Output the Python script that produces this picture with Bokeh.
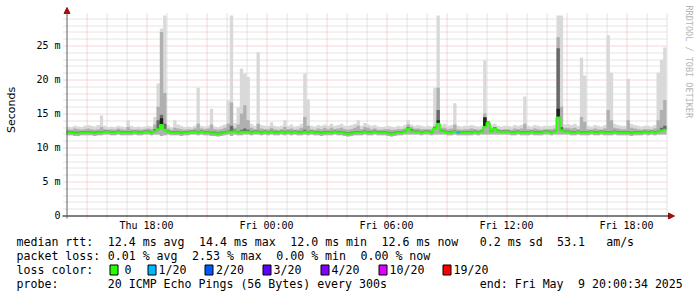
import math
from bokeh.plotting import figure
from bokeh.models import Range1d, FixedTicker, Arrow, NormalHead
from bokeh.layouts import column
from bokeh.embed import file_html
from bokeh.resources import INLINE
from bokeh.core.properties import value

# ---------------- data (10-minute consolidated steps, Thu 14:00 .. Fri 20:00) ----------------
start_hour = 14.0          # Thu 14:00, hours counted from Thu 00:00
step_hours = 1.0 / 6.0     # 10 minutes
end_hour = 44.0            # Fri 20:00

# median round-trip time (ms)
median_ms = [
    12.2, 12.2, 12.1, 12.1, 12.2, 12.2,   # Thu 14
    12.2, 12.2, 12.1, 12.2, 12.2, 12.3,   # 15
    12.3, 12.2, 12.2, 12.3, 12.2, 12.2,   # 16
    12.2, 12.2, 12.3, 12.2, 12.2, 12.3,   # 17
    12.3, 12.2, 12.4, 12.7, 13.3, 12.6,   # 18
    12.3, 12.2, 12.2, 12.2, 12.1, 12.2,   # 19
    12.2, 12.3, 12.3, 12.2, 12.3, 12.2,   # 20
    12.2, 12.1, 12.1, 12.0, 12.1, 12.2,   # 21
    12.3, 12.3, 12.4, 12.2, 12.3, 12.3,   # 22
    12.3, 12.2, 12.3, 12.3, 12.2, 12.3,   # 23
    12.2, 12.3, 12.2, 12.2, 12.3, 12.2,   # Fri 00
    12.3, 12.2, 12.3, 12.2, 12.2, 12.3,   # 01
    12.2, 12.3, 12.2, 12.2, 12.1, 12.2,   # 02
    12.2, 12.2, 12.3, 12.2, 12.2, 12.1,   # 03
    12.0, 12.1, 12.2, 12.2, 12.2, 12.3,   # 04
    12.2, 12.2, 12.3, 12.2, 12.2, 12.2,   # 05
    12.1, 12.0, 12.1, 12.2, 12.2, 12.3,   # 06
    12.8, 12.4, 12.3, 12.3, 12.2, 12.3,   # 07
    12.3, 12.2, 12.8, 13.5, 12.4, 12.3,   # 08
    12.2, 12.2, 12.3, 12.2, 12.2, 12.2,   # 09
    12.2, 12.2, 12.3, 12.2, 12.3, 13.0,   # 10
    13.6, 12.3, 12.8, 12.4, 12.3, 12.3,   # 11
    12.3, 12.2, 12.2, 12.3, 12.2, 12.2,   # 12
    12.2, 12.3, 12.2, 12.2, 12.2, 12.3,   # 13
    12.3, 12.2, 12.3, 14.4, 12.5, 12.3,   # 14
    12.3, 12.2, 12.2, 12.3, 12.2, 12.2,   # 15
    12.2, 12.3, 12.2, 12.2, 12.3, 12.2,   # 16
    12.2, 12.2, 12.3, 12.2, 12.2, 12.2,   # 17
    12.2, 12.1, 12.2, 12.2, 12.2, 12.3,   # 18
    12.2, 12.3, 12.2, 12.3, 12.5, 12.6,   # 19
]

# fastest ping of each step (ms) - lower edge of the smoke
smoke_lo_ms = [
    11.8, 11.8, 11.7, 11.7, 11.8, 11.8,
    11.8, 11.8, 11.7, 11.8, 11.8, 11.9,
    11.9, 11.8, 11.8, 11.9, 11.8, 11.8,
    11.8, 11.8, 11.9, 11.8, 11.8, 11.9,
    11.9, 11.8, 11.9, 11.9, 11.7, 11.8,
    11.9, 11.8, 11.8, 11.8, 11.7, 11.8,
    11.8, 11.9, 11.9, 11.8, 11.9, 11.8,
    11.8, 11.7, 11.7, 11.6, 11.7, 11.8,
    11.9, 11.7, 11.9, 11.8, 11.8, 11.9,
    11.9, 11.8, 11.9, 11.9, 11.8, 11.9,
    11.8, 11.9, 11.8, 11.8, 11.9, 11.8,
    11.9, 11.8, 11.9, 11.8, 11.8, 11.9,
    11.8, 11.9, 11.8, 11.8, 11.7, 11.8,
    11.8, 11.8, 11.9, 11.8, 11.8, 11.7,
    11.6, 11.7, 11.8, 11.8, 11.8, 11.9,
    11.8, 11.8, 11.9, 11.8, 11.8, 11.8,
    11.7, 11.6, 11.7, 11.8, 11.8, 11.9,
    11.9, 11.9, 11.9, 11.9, 11.8, 11.9,
    11.9, 11.8, 11.9, 11.9, 11.9, 11.9,
    11.8, 11.8, 11.9, 11.8, 11.8, 11.8,
    11.8, 11.8, 11.9, 11.8, 11.9, 11.9,
    11.9, 11.9, 11.9, 11.9, 11.9, 11.9,
    11.9, 11.8, 11.8, 11.9, 11.8, 11.8,
    11.8, 11.9, 11.8, 11.8, 11.8, 11.9,
    11.9, 11.8, 11.9, 11.9, 11.9, 11.9,
    11.9, 11.8, 11.8, 11.9, 11.8, 11.8,
    11.8, 11.9, 11.8, 11.8, 11.9, 11.8,
    11.8, 11.8, 11.9, 11.8, 11.8, 11.8,
    11.8, 11.7, 11.8, 11.8, 11.8, 11.9,
    11.8, 11.9, 11.8, 11.9, 11.9, 11.9,
]

# slowest ping of each step (ms) - upper edge of the light smoke (clipped at the top)
smoke_hi_ms = [
    13.1, 13.0, 13.2, 13.1, 13.0, 13.2,
    13.3, 13.2, 13.1, 13.3, 14.7, 13.2,
    13.0, 13.1, 13.0, 13.2, 13.1, 13.0,
    14.0, 13.2, 13.0, 13.1, 13.0, 13.1,
    13.2, 13.1, 14.5, 19.4, 27.5, 29.4,
    13.3, 13.0, 14.0, 13.4, 13.2, 13.0,
    13.1, 13.0, 13.2, 18.8, 13.2, 13.1,
    13.2, 15.7, 13.1, 13.0, 13.2, 13.4,
    16.9, 29.4, 13.6, 15.9, 21.6, 20.9,
    20.4, 13.5, 13.2, 24.0, 13.3, 13.2,
    13.2, 13.7, 13.2, 13.1, 13.2, 14.0,
    13.2, 13.4, 13.1, 13.2, 13.5, 20.9,
    17.1, 13.2, 13.1, 13.3, 13.2, 13.4,
    13.2, 13.5, 13.2, 13.3, 13.5, 13.2,
    13.2, 13.3, 13.5, 14.0, 13.2, 13.6,
    13.4, 13.2, 13.3, 13.1, 13.0, 13.1,
    13.2, 13.1, 13.0, 13.2, 13.1, 13.3,
    14.0, 13.4, 13.2, 13.3, 13.2, 13.1,
    13.2, 13.1, 18.8, 29.4, 13.4, 13.5,
    13.2, 13.3, 16.5, 13.2, 13.1, 13.2,
    13.2, 13.3, 13.2, 13.1, 13.2, 22.8,
    13.6, 13.4, 13.5, 13.2, 13.1, 13.2,
    13.2, 13.1, 13.3, 13.2, 13.3, 17.5,
    13.2, 13.1, 13.3, 13.2, 13.1, 13.2,
    13.2, 13.2, 13.3, 29.4, 29.4, 13.4,
    13.5, 13.3, 13.5, 13.2, 23.2, 20.6,
    13.2, 13.1, 13.3, 13.2, 13.1, 13.3,
    26.5, 21.0, 13.5, 13.3, 13.2, 13.2,
    20.1, 13.5, 13.3, 13.2, 13.1, 13.2,
    13.2, 13.1, 13.3, 21.0, 22.9, 24.7,
]

# upper edge of the denser (mid grey) smoke (ms)
smoke_mid_ms = [
    12.7, 12.6, 12.8, 12.7, 12.6, 12.7,
    12.8, 12.7, 12.6, 12.7, 13.0, 12.7,
    12.6, 12.7, 12.6, 12.8, 12.7, 12.6,
    13.0, 12.7, 12.6, 12.7, 12.6, 12.7,
    12.8, 12.7, 13.4, 16.0, 27.0, 18.0,
    12.8, 12.6, 12.9, 12.8, 12.7, 12.6,
    12.7, 12.6, 12.8, 13.5, 12.8, 12.7,
    12.8, 13.4, 12.7, 12.6, 12.7, 12.9,
    13.5, 16.6, 12.9, 13.4, 15.0, 16.2,
    14.0, 12.9, 12.7, 13.5, 12.8, 12.7,
    12.7, 12.9, 12.7, 12.6, 12.7, 13.0,
    12.7, 12.8, 12.6, 12.7, 12.9, 14.5,
    13.2, 12.7, 12.6, 12.8, 12.7, 12.9,
    12.7, 12.9, 12.7, 12.8, 12.9, 12.7,
    12.6, 12.7, 12.9, 13.2, 12.7, 13.0,
    12.9, 12.7, 12.8, 12.6, 12.6, 12.7,
    12.7, 12.6, 12.6, 12.7, 12.7, 12.8,
    13.4, 13.0, 12.8, 12.8, 12.7, 12.7,
    12.7, 12.7, 13.2, 18.8, 12.9, 12.9,
    12.7, 12.8, 13.4, 12.7, 12.6, 12.7,
    12.7, 12.8, 12.7, 12.6, 12.7, 15.0,
    13.9, 12.9, 13.0, 12.7, 12.6, 12.7,
    12.7, 12.6, 12.8, 12.7, 12.8, 13.5,
    12.7, 12.6, 12.8, 12.7, 12.6, 12.7,
    12.7, 12.7, 12.8, 26.2, 16.0, 12.9,
    12.9, 12.8, 12.9, 12.7, 14.5, 13.8,
    12.7, 12.6, 12.8, 12.7, 12.6, 12.8,
    15.5, 14.0, 12.9, 12.8, 12.7, 12.7,
    14.0, 12.9, 12.8, 12.7, 12.6, 12.7,
    12.7, 12.6, 12.8, 14.0, 15.5, 17.0,
]

# upper edge of the dark smoke next to the median (ms)
smoke_dark_ms = [
    12.4, 12.4, 12.3, 12.3, 12.4, 12.4,
    12.4, 12.4, 12.3, 12.4, 12.4, 12.5,
    12.5, 12.4, 12.4, 12.5, 12.4, 12.4,
    12.4, 12.4, 12.5, 12.4, 12.4, 12.5,
    12.5, 12.4, 12.7, 14.0, 14.8, 13.5,
    12.5, 12.4, 12.4, 12.4, 12.3, 12.4,
    12.4, 12.5, 12.5, 12.4, 12.5, 12.4,
    12.4, 12.3, 12.3, 12.2, 12.3, 12.4,
    12.5, 13.2, 12.6, 12.4, 12.6, 12.8,
    12.6, 12.4, 12.5, 12.5, 12.4, 12.5,
    12.4, 12.5, 12.4, 12.4, 12.5, 12.4,
    12.5, 12.4, 12.5, 12.4, 12.4, 12.6,
    12.4, 12.5, 12.4, 12.4, 12.3, 12.4,
    12.4, 12.4, 12.5, 12.4, 12.4, 12.3,
    12.2, 12.3, 12.4, 12.4, 12.4, 12.5,
    12.4, 12.4, 12.5, 12.4, 12.4, 12.4,
    12.3, 12.2, 12.3, 12.4, 12.4, 12.5,
    13.0, 12.7, 12.5, 12.5, 12.4, 12.5,
    12.5, 12.4, 13.0, 15.5, 12.6, 12.5,
    12.4, 12.4, 12.5, 12.4, 12.4, 12.4,
    12.4, 12.4, 12.5, 12.4, 12.5, 14.5,
    13.8, 12.5, 13.0, 12.6, 12.5, 12.5,
    12.5, 12.4, 12.4, 12.5, 12.4, 12.4,
    12.4, 12.5, 12.4, 12.4, 12.4, 12.5,
    12.5, 12.4, 12.5, 24.6, 13.0, 12.5,
    12.5, 12.4, 12.4, 12.5, 12.4, 12.4,
    12.4, 12.5, 12.4, 12.4, 12.5, 12.4,
    12.4, 12.4, 12.5, 12.4, 12.4, 12.4,
    12.4, 12.3, 12.4, 12.4, 12.4, 12.5,
    12.4, 12.5, 12.4, 12.5, 12.9, 13.2,
]

# darkest core of a few bursts (ms)
core_hour = [18.6667, 32.5, 34.8333, 38.5]
core_ms = [14.3, 14.0, 14.4, 15.7]

# steps with packet loss
loss_hour = [33.5]
loss_of_20 = [1]

# axis ticks / labels
x_label_hours = [18, 24, 30, 36, 42]
x_labels = ["Thu 18:00", "Fri 00:00", "Fri 06:00", "Fri 12:00", "Fri 18:00"]
x_major_grid = [15, 18, 21, 24, 27, 30, 33, 36, 39, 42]
x_minor_grid = [16, 17, 19, 20, 22, 23, 25, 26, 28, 29, 31, 32, 34, 35, 37, 38, 40, 41, 43, 44]
y_label_ms = [0, 5, 10, 15, 20, 25]
y_labels = ["0", "5 m", "10 m", "15 m", "20 m", "25 m"]
y_major_grid = [5, 10, 15, 20, 25]
y_minor_grid = [1, 2, 3, 4, 6, 7, 8, 9, 11, 12, 13, 14, 16, 17, 18, 19, 21, 22, 23, 24, 26, 27, 28, 29]

# legend
rtt_title = "median rtt:"
rtt_stats = ["12.4 ms avg", "14.4 ms max", "12.0 ms min", "12.6 ms now", "0.2 ms sd", "53.1", "am/s"]
loss_title = "packet loss:"
loss_stats = ["0.01 % avg", "2.53 % max", "0.00 % min", "0.00 % now"]
color_title = "loss color:"
loss_labels = ["0", "1/20", "2/20", "3/20", "4/20", "10/20", "19/20"]
loss_colors = ["#26ff00", "#00b8ff", "#0059ff", "#5e00ff", "#7e00ff", "#dd00ff", "#ff0000"]
probe_title = "probe:"
probe_text = "20 ICMP Echo Pings (56 Bytes) every 300s"
end_text_a = "end: Fri May"
end_text_b = "9 20:00:34 2025"
credit = "RRDTOOL / TOBI OETIKER"

# ---------------- layout constants (pixels) ----------------
MONO = "DejaVu Sans Mono"
W = 697
H_PLOT = 235
H_LEG = 297 - H_PLOT
FRAME_LEFT = 60          # frame spans x 60..697, y 0..219
FRAME_BOTTOM = 219
AXIS_X_PX = 66           # pixel of start_hour
AXIS_Y_PX = 215          # pixel of 0 ms
PX_PER_H = 20.0
PX_PER_MS = 6.8

x_lo = start_hour - (AXIS_X_PX - FRAME_LEFT) / PX_PER_H
x_hi = start_hour + (W - AXIS_X_PX) / PX_PER_H
y_lo = -(FRAME_BOTTOM - AXIS_Y_PX) / PX_PER_MS
y_hi = AXIS_Y_PX / PX_PER_MS


def hx(px):
    return start_hour + (px - AXIS_X_PX) / PX_PER_H


def vy(py):
    return (AXIS_Y_PX - py) / PX_PER_MS


def crisp_x(h):
    # snap a vertical line to the centre of its pixel column
    return hx(round(AXIS_X_PX + (h - start_hour) * PX_PER_H) + 0.5)


def crisp_y(v):
    return vy(round(AXIS_Y_PX - v * PX_PER_MS) + 0.5)


n = len(median_ms)
t_edge = [start_hour + i * step_hours for i in range(n)] + [end_hour]


def ext(a):
    return list(a) + [a[-1]]


p = figure(width=W, height=H_PLOT, x_range=Range1d(x_lo, x_hi), y_range=Range1d(y_lo, y_hi),
           output_backend="svg", toolbar_location=None,
           min_border_left=FRAME_LEFT, min_border_right=0, min_border_top=0,
           min_border_bottom=H_PLOT - FRAME_BOTTOM,
           background_fill_color="white", border_fill_color="white")
p.frame_align = False
p.outline_line_color = None
p.xgrid.visible = False
p.ygrid.visible = False

# grid (dotted, extends a few pixels past the axes like rrdtool)
gx_lo, gx_hi, gy_lo, gy_hi = hx(63), hx(667), vy(218), vy(13)
xmn = [crisp_x(h) for h in x_minor_grid]
xmj = [crisp_x(h) for h in x_major_grid]
ymn = [crisp_y(v) for v in y_minor_grid]
ymj = [crisp_y(v) for v in y_major_grid]
p.segment(x0=xmn, x1=xmn, y0=[gy_lo] * len(xmn), y1=[gy_hi] * len(xmn),
          line_color="#c8c8c8", line_dash="1 1", line_width=1)
p.segment(x0=[gx_lo] * len(ymn), x1=[gx_hi] * len(ymn), y0=ymn, y1=ymn,
          line_color="#c8c8c8", line_dash="1 1", line_width=1)
p.segment(x0=xmj, x1=xmj, y0=[gy_lo] * len(xmj), y1=[gy_hi] * len(xmj),
          line_color="#ebb0b0", line_dash="1 1", line_width=1)
p.segment(x0=[gx_lo] * len(ymj), x1=[gx_hi] * len(ymj), y0=ymj, y1=ymj,
          line_color="#ebb0b0", line_dash="1 1", line_width=1)

# smoke
p.varea_step(x=t_edge, y1=ext(smoke_lo_ms), y2=ext(smoke_hi_ms), step_mode="after", fill_color="#d9d9d9")
p.varea_step(x=t_edge, y1=ext(smoke_lo_ms), y2=ext(smoke_mid_ms), step_mode="after", fill_color="#b0b0b0")
p.varea_step(x=t_edge, y1=ext(median_ms), y2=ext(smoke_dark_ms), step_mode="after", fill_color="#686868")
core_idx = [int(round((h - start_hour) / step_hours)) for h in core_hour]
p.quad(left=core_hour, right=[h + step_hours for h in core_hour],
       bottom=[median_ms[i] for i in core_idx], top=core_ms, fill_color="#1e1e1e", line_color=None)

# median line coloured by loss
p.step(x=t_edge, y=ext(median_ms), mode="after", line_color=loss_colors[0], line_width=2)
loss_idx = [int(round((h - start_hour) / step_hours)) for h in loss_hour]
loss_map = {0: 0, 1: 1, 2: 2, 3: 3, 4: 4, 10: 5, 19: 6}
p.segment(x0=loss_hour, x1=[h + step_hours for h in loss_hour], y0=[median_ms[i] for i in loss_idx],
          y1=[median_ms[i] for i in loss_idx], line_color=[loss_colors[loss_map[k]] for k in loss_of_20],
          line_width=2)

# axes (labels only; lines drawn below)
p.xaxis.ticker = FixedTicker(ticks=x_label_hours)
p.xaxis.major_label_overrides = {h: s for h, s in zip(x_label_hours, x_labels)}
p.yaxis.ticker = FixedTicker(ticks=y_label_ms)
p.yaxis.major_label_overrides = {v: s for v, s in zip(y_label_ms, y_labels)}
for ax in (p.xaxis[0], p.yaxis[0]):
    ax.major_label_text_font = MONO
    ax.major_label_text_font_size = "10px"
    ax.major_label_text_color = "black"
    ax.major_tick_in = 0
    ax.major_tick_out = 0
    ax.minor_tick_line_color = None
    ax.major_tick_line_color = None
    ax.axis_line_color = None
    ax.major_label_standoff = 0
p.yaxis.axis_label = "Seconds"
p.yaxis.axis_label_text_font = "DejaVu Sans"
p.yaxis.axis_label_text_font_size = "11px"
p.yaxis.axis_label_text_font_style = "normal"
p.yaxis.axis_label_text_color = "black"
p.yaxis.axis_label_standoff = 15

# axis lines with arrow heads
p.add_layout(Arrow(end=NormalHead(size=6, fill_color="#a01010", line_color="#a01010"),
                   x_start=hx(62), y_start=vy(215.5), x_end=hx(674), y_end=vy(215.5),
                   line_color="black", line_width=1))
p.add_layout(Arrow(end=NormalHead(size=6, fill_color="#a01010", line_color="#a01010"),
                   x_start=hx(66.5), y_start=vy(218), x_end=hx(66.5), y_end=vy(7),
                   line_color="#606060", line_width=1))

# vertical credit on the right
p.text(x=[hx(688)], y=[vy(5)], text=[credit], angle=-math.pi / 2, text_align="left",
       text_baseline="middle", text_font=value(MONO), text_font_size="8.5px", text_color="#b4b4b4")

# ---------------- legend block ----------------
q = figure(width=W, height=H_LEG, x_range=Range1d(0, W), y_range=Range1d(H_LEG, 0),
           output_backend="svg", toolbar_location=None, min_border=0,
           x_axis_location=None, y_axis_location=None,
           background_fill_color="white", border_fill_color="white")
q.frame_align = False
q.grid.visible = False
q.outline_line_color = None

left0 = 16
cw = 7.02
rows = [241 - H_PLOT, 255 - H_PLOT, 269 - H_PLOT, 283 - H_PLOT]
rtt_cols = [13, 26, 39, 52, 66, 77, 84]
loss_cols = [13, 25, 37, 49]
box_x = [109.5, 147.5, 204.5, 262.5, 320.5, 378.5, 442.5]
lab_x = [124, 158, 215.5, 273, 331, 389, 453]

tx, ty, tt = [], [], []
tx.append(left0); ty.append(rows[0]); tt.append(rtt_title)
for c, s in zip(rtt_cols, rtt_stats):
    tx.append(left0 + c * cw); ty.append(rows[0]); tt.append(s)
tx.append(left0); ty.append(rows[1]); tt.append(loss_title)
for c, s in zip(loss_cols, loss_stats):
    tx.append(left0 + c * cw); ty.append(rows[1]); tt.append(s)
tx.append(left0); ty.append(rows[2]); tt.append(color_title)
for xx, s in zip(lab_x, loss_labels):
    tx.append(xx); ty.append(rows[2]); tt.append(s)
tx.append(left0); ty.append(rows[3]); tt.append(probe_title)
tx.append(left0 + 13 * cw); ty.append(rows[3]); tt.append(probe_text)
tx.append(left0 + 66 * cw); ty.append(rows[3]); tt.append(end_text_a)
tx.append(left0 + 80 * cw); ty.append(rows[3]); tt.append(end_text_b)

q.text(x=tx, y=ty, text=tt, text_font=value(MONO), text_font_size="11.6px",
       text_align="left", text_baseline="middle", text_color="black")
q.quad(left=box_x, right=[b + 8 for b in box_x], top=[rows[2] - 4.5] * len(box_x),
       bottom=[rows[2] + 5.5] * len(box_x), fill_color=loss_colors, line_color="black", line_width=1)

layout = column(p, q, spacing=0)
open("out.html", "w").write(file_html(layout, INLINE))
